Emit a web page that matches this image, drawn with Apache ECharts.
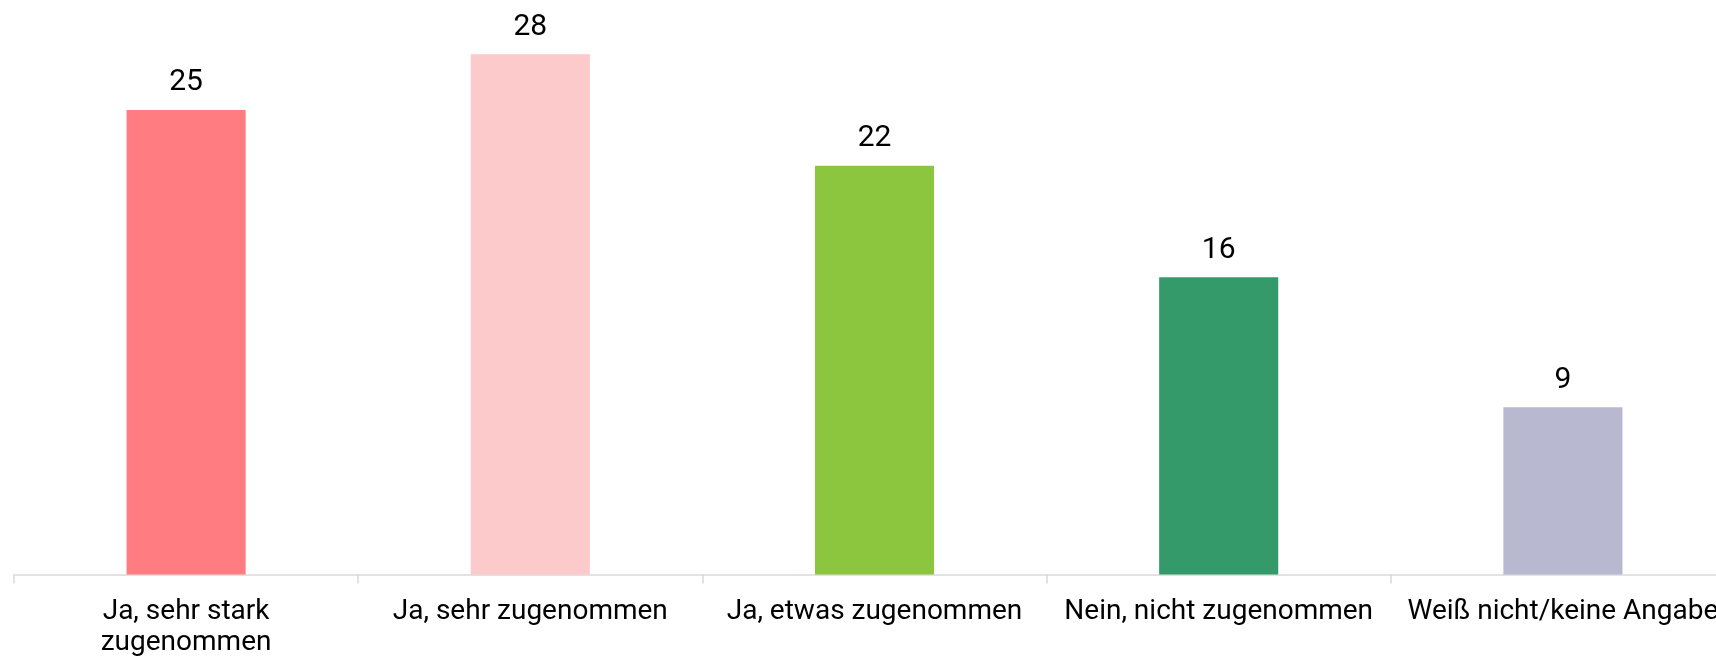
<!DOCTYPE html>
<html>
<head>
<meta charset="utf-8">
<script src="https://cdn.jsdelivr.net/npm/echarts@6/dist/echarts.min.js"></script>
<style>
  html, body { margin: 0; padding: 0; background: #fff; }
  #chart { width: 1716px; height: 661px; }
</style>
</head>
<body>
<div id="chart"></div>
<script>
var categories = [
    'Ja, sehr stark\nzugenommen',
    'Ja, sehr zugenommen',
    'Ja, etwas zugenommen',
    'Nein, nicht zugenommen',
    'Weiß nicht/keine Angabe'
];
var values = [25, 28, 22, 16, 9];
var barColors = ['#ff7c80', '#fccaca', '#8cc63e', '#349a69', '#b8b8d0'];

var chart = echarts.init(document.getElementById('chart'));

var option = {
    animation: false,
    grid: {
        left: 14, top: 17, bottom: 86.5, width: 1721,
        containLabel: false,
        outerBoundsMode: 'none'
    },
    xAxis: {
        type: 'category',
        data: categories,
        boundaryGap: true,
        axisLine: { lineStyle: { color: '#d9d9d9', width: 1.5 } },
        axisTick: { show: true, length: 9, lineStyle: { color: '#d9d9d9', width: 1.5 } },
        axisLabel: {
            interval: 0,
            margin: 22,
            color: '#000',
            fontFamily: 'Roboto',
            fontSize: 28,
            lineHeight: 31,
            hideOverlap: false
        }
    },
    yAxis: {
        type: 'value',
        min: 0,
        max: 30,
        show: false,
        splitLine: { show: false }
    },
    series: [{
        type: 'bar',
        barWidth: '34.6%',
        data: values.map(function (v, i) {
            return { value: v, itemStyle: { color: barColors[i] } };
        }),
        label: {
            show: true,
            position: 'top',
            distance: 12,
            color: '#000',
            fontFamily: 'Roboto',
            fontSize: 30
        }
    }]
};

chart.setOption(option);
</script>
</body>
</html>
